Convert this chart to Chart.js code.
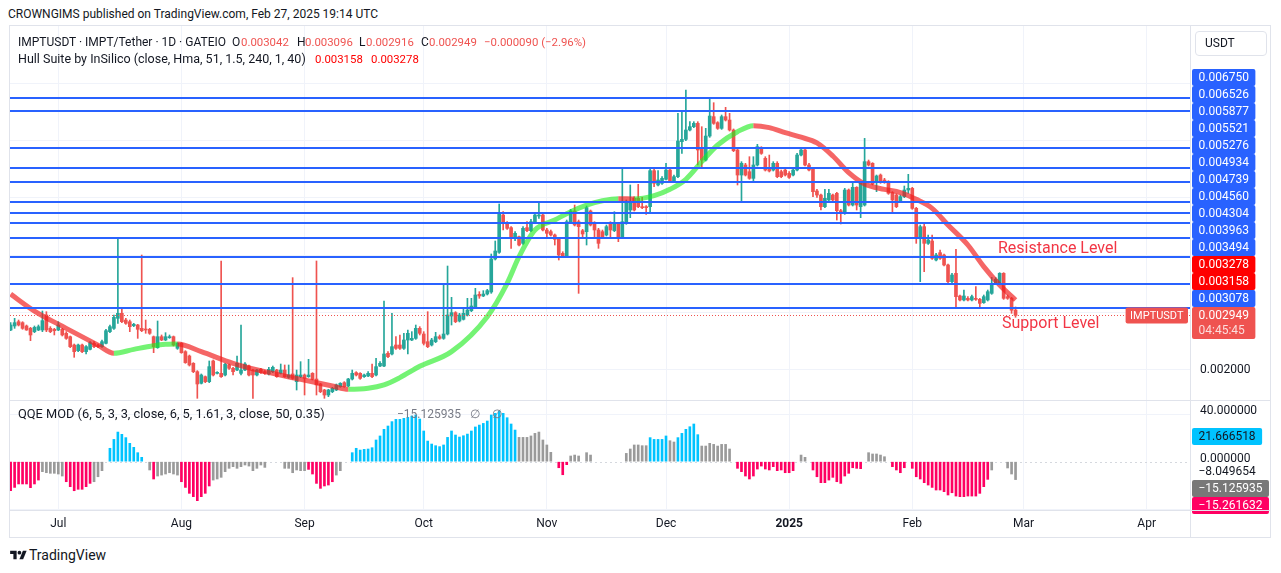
<!DOCTYPE html>
<html>
<head>
<meta charset="utf-8">
<title>IMPTUSDT · IMPT/Tether · 1D</title>
<script src="https://cdn.jsdelivr.net/npm/chart.js@4.4.1/dist/chart.umd.min.js"></script>
<style>
html,body{margin:0;padding:0;background:#fff;}
body{position:relative;width:1281px;height:573px;overflow:hidden;font-family:Roboto,"Noto Sans",Arial,sans-serif;color:#131722;font-size:12px;}
.abs{position:absolute;white-space:nowrap;}
canvas{position:absolute;display:block;}
#frame{left:9px;top:25px;width:1260px;height:511px;border:1px solid #e0e3eb;}
.hline{position:absolute;height:1px;background:#e0e3eb;}
.vline{position:absolute;width:1px;background:#e0e3eb;}
.leg{line-height:16px;font-size:12px;}
.val{font-size:11.4px;}
.dn{color:#ef5350;}
.hu{color:#ff0000;}
.note{font-size:16px;line-height:18px;color:#f23645;}
#usdt{left:1195px;top:31px;width:70px;height:23px;border:1px solid #e0e3eb;border-radius:4px;line-height:23px;text-indent:9px;font-size:12px;}
</style>
</head>
<body>
<div class="abs" id="title" style="left:8px;top:6px;line-height:16px;">CROWNGIMS published on TradingView.com, Feb 27, 2025 19:14 UTC</div>
<div class="abs" id="frame"></div>
<canvas id="main" width="1260" height="374" style="left:10px;top:26px;"></canvas>
<canvas id="qqe" width="1260" height="136" style="left:10px;top:401px;"></canvas>
<div class="hline" style="left:10px;top:400px;width:1260px;"></div>
<div class="hline" style="left:10px;top:510px;width:1260px;"></div>
<div class="vline" style="left:1190px;top:26px;height:511px;"></div>

<div class="abs leg" style="left:18px;top:34px;">IMPTUSDT · IMPT/Tether · 1D · GATEIO</div>
<div class="abs leg" style="left:232px;top:34px;">O</div><div class="abs leg val dn" style="left:241px;top:34px;">0.003042</div>
<div class="abs leg" style="left:297px;top:34px;">H</div><div class="abs leg val dn" style="left:305px;top:34px;">0.003096</div>
<div class="abs leg" style="left:359px;top:34px;">L</div><div class="abs leg val dn" style="left:366px;top:34px;">0.002916</div>
<div class="abs leg" style="left:421px;top:34px;">C</div><div class="abs leg val dn" style="left:429px;top:34px;">0.002949</div>
<div class="abs leg val dn" style="left:484px;top:34px;">−0.000090 (−2.96%)</div>
<div class="abs leg" style="left:18px;top:51px;font-size:12.5px;">Hull Suite by InSilico (close, Hma, 51, 1.5, 240, 1, 40)</div>
<div class="abs leg val hu" style="left:315px;top:51px;">0.003158</div>
<div class="abs leg val hu" style="left:371px;top:51px;">0.003278</div>
<div class="abs leg" style="left:18px;top:406px;font-size:12.8px;">QQE MOD (6, 5, 3, 3, close, 6, 5, 1.61, 3, close, 50, 0.35)</div>
<div class="abs leg" style="left:397px;top:406px;color:#787b86;">−15.125935<span style="margin-left:9px">∅</span><span style="margin-left:12px">∅</span></div>
<div class="abs" id="usdt">USDT</div>
<div class="abs note" style="left:998px;top:239px;">Resistance Level</div>
<div class="abs note" style="left:1002px;top:314px;">Support Level</div>

<div class="abs" style="left:10px;top:549px;"><svg width="17" height="13" viewBox="0 0 36 28"><path d="M14 22H7V11H0V4h14v18z" fill="#131722"/><circle cx="20" cy="8" r="4" fill="#131722"/><path d="M28 22h-8l7.5-18h8L28 22z" fill="#131722"/></svg></div>
<div class="abs" style="left:29px;top:546px;font-size:14px;line-height:18px;">TradingView</div>

<script>
// ---------------- data ----------------
// day index 0 = Jul 1, 2024; first candle = Jun 19, 2024 (index -12), last = Feb 27, 2025 (index 241)
const FIRST_DAY = -12;
const monthTickDays = [0, 31, 62, 92, 123, 153, 184, 215, 243, 274];
const monthTickLabels = ['Jul', 'Aug', 'Sep', 'Oct', 'Nov', 'Dec', '2025', 'Feb', 'Mar', 'Apr'];
const priceGridTicks = [0.002, 0.003, 0.004, 0.005, 0.006, 0.007];
const qqeGridTicks = [40, 0, -40];

// OHLC in micro-USDT (x 0.000001)
const openMicro = [
2694,2764,2839,2822,2764,2723,2665,2694,2694,2956,
2723,2706,2694,2706,2636,2577,2432,2333,2432,2316,
2356,2461,2432,2403,2461,2665,2723,2898,2985,2868,
2839,2770,2781,2723,2706,2706,2577,2385,2577,2519,
2560,2577,2374,2461,2316,2240,2112,1966,1763,1879,
1792,2153,1937,1937,1908,2083,2025,1995,1937,1995,
2065,1995,1908,2007,1966,1926,1966,1995,1937,1995,
1867,1926,1792,1879,1908,1879,1937,1838,1751,1646,
1559,1617,1646,1704,1774,1716,1838,1949,1937,1879,
1891,1937,1908,2065,2065,2287,2275,2432,2432,2374,
2519,2519,2548,2723,2624,2490,2432,2490,2577,2548,
2624,2938,2997,2851,2880,2956,3031,3101,3317,3288,
3322,3357,3934,4050,4702,4568,4481,4323,4323,4207,
4481,4428,4585,4684,4702,4440,4411,4353,4294,4032,
3974,4585,4772,4585,4428,4411,4772,4568,4440,4411,
4353,4556,4428,4556,4323,4556,4789,4993,4993,4847,
4847,4847,5476,5226,5255,5325,5487,5284,5371,5982,
6023,6186,6244,6302,5866,5662,6081,6419,6314,6215,
6419,6360,6186,5837,5400,5575,5458,5342,5575,5866,
5691,5517,5487,5604,5458,5487,5429,5400,5487,5749,
5837,5575,5499,5121,5051,4847,4964,5051,5080,4777,
4731,5138,4876,5185,4847,4876,5633,5604,5266,5400,
5313,5284,5092,5051,4935,5022,5138,5167,4818,4323,
4498,4207,4248,3916,4044,4003,3829,3538,3683,3288,
3218,3247,3218,3247,3229,3171,3218,3334,3509,3509,
3683,3276,3247,3042];
const highMicro = [
2822,2898,2868,2839,2781,2740,2764,2781,3026,3014,
2752,2723,2839,2723,2665,2589,2449,2449,2449,2420,
2490,2490,2449,2519,2706,2781,2956,4306,3055,2898,
2868,2810,2793,4003,2868,2723,2589,2851,2607,2647,
2607,2589,2473,2473,2333,2257,2124,1984,1926,1891,
2153,2170,1966,3899,2112,2100,2042,2240,2781,2124,
2083,2007,2007,2025,1984,2042,2065,2007,2100,2083,
2083,3608,1995,2141,1926,2182,1949,3899,1763,1658,
1658,1693,1751,1774,1792,1850,1995,1966,1949,1926,
1966,2100,2199,2141,3200,2316,2985,2577,2607,2636,
2694,2665,2781,2752,2665,3014,2548,2653,2607,3491,
3811,3264,3014,2985,3055,3247,3247,3421,3363,3381,
3404,4021,4248,4894,4760,4585,4498,4411,4335,4498,
4585,4626,4731,4917,4731,4469,4440,4370,4312,4061,
4614,4801,4876,4614,4452,4859,4789,4585,4469,4440,
4527,4585,4760,4568,5517,4964,5226,5022,5237,5010,
4865,5499,5499,5476,5371,5604,5517,5400,6477,6523,
6884,6331,6331,6331,6244,6215,6739,6663,6331,6448,
6582,6477,6204,5866,5633,5604,5720,5720,5936,5895,
5720,5749,5633,5633,5487,5517,5458,5517,5778,5866,
5866,5604,5517,5150,5069,5150,5150,5069,5098,4801,
5167,5156,5266,5196,5284,6040,5662,5616,5400,5418,
5342,5301,5109,5069,5051,5208,5412,5185,4836,4527,
4556,4353,4353,4032,4091,4021,3846,3683,4102,3305,
3392,3276,3305,3450,3247,3305,3392,3613,3608,3695,
3695,3305,3264,3096];
const lowMicro = [
2682,2723,2764,2706,2688,2508,2647,2682,2665,2665,
2647,2607,2682,2589,2531,2385,2217,2316,2298,2275,
2344,2385,2385,2391,2449,2647,2706,2810,2822,2793,
2665,2752,2548,2665,2636,2618,2298,2374,2508,2508,
2548,2415,2356,2287,2112,2065,1949,1501,1751,1774,
1774,1891,1926,1867,1891,2007,1908,1984,1908,1984,
1891,1501,1891,1937,1920,1908,1949,1867,1926,1867,
1850,1833,1646,1862,1559,1867,1821,1559,1600,1501,
1530,1600,1635,1693,1693,1704,1821,1891,1833,1867,
1879,1862,1891,2054,2054,2211,2257,2356,2356,2356,
2275,2508,2531,2607,2432,2385,2415,2473,2531,2531,
2607,2781,2822,2834,2868,2938,3014,3084,3247,3276,
3305,3334,3916,4032,4440,4452,4120,4254,4160,4189,
4411,4411,4568,4644,4423,4323,4335,4178,3916,3957,
3963,4568,4510,3334,4323,4178,4510,4323,4120,4306,
4335,4323,4411,4236,4306,4539,4655,4772,4830,4812,
4713,4760,5196,5208,5237,5313,5266,5266,5353,5778,
6000,6168,6227,5575,5517,5645,6058,6285,6197,6197,
6343,6168,5808,5226,4935,5383,5325,5284,5557,5761,
5470,5453,5470,5353,5353,5383,5342,5383,5470,5732,
5557,5470,5022,5010,4789,4830,4946,4946,4614,4545,
4713,4859,4859,4789,4655,4859,5557,5226,5109,5255,
5255,5063,4731,4830,4917,5004,5080,4801,4207,3538,
3712,4189,3928,3899,3928,3811,3520,3520,3101,3200,
3200,3200,3200,3212,3072,3159,3200,3317,3491,3497,
3229,3229,2985,2916];
const closeMicro = [
2781,2822,2781,2723,2694,2607,2740,2752,2857,2694,
2665,2682,2781,2607,2548,2403,2316,2432,2316,2403,
2473,2403,2403,2490,2682,2752,2915,2985,2839,2810,
2752,2793,2706,2682,2694,2636,2403,2577,2519,2577,
2577,2432,2461,2298,2124,2083,1966,1751,1908,1792,
2054,1908,1949,1879,2094,2025,1966,2112,1995,2100,
1908,1908,1995,1949,1937,2007,2042,1879,1995,1879,
1908,1850,1908,1908,1850,1908,1833,1734,1617,1559,
1646,1675,1734,1763,1704,1838,1937,1908,1850,1908,
1937,1879,2054,2112,2275,2228,2403,2374,2374,2519,
2636,2548,2723,2636,2461,2403,2519,2577,2548,2624,
2956,2997,2839,2956,2985,3043,3113,3305,3288,3322,
3381,3934,4073,4743,4556,4469,4294,4382,4178,4469,
4428,4585,4702,4702,4440,4382,4353,4277,4003,3974,
4585,4772,4527,4498,4370,4830,4527,4440,4207,4323,
4498,4440,4568,4323,4585,4935,4917,4789,4847,4830,
4830,5476,5255,5313,5342,5487,5284,5371,5994,6023,
6186,6244,6302,5837,5662,6081,6430,6302,6215,6419,
6360,6186,5825,5400,5604,5400,5342,5575,5895,5778,
5487,5470,5604,5371,5371,5400,5359,5487,5749,5837,
5575,5487,5109,5051,4847,4993,5080,4964,4777,4731,
5138,4876,5185,4876,5255,5633,5575,5243,5383,5266,
5266,5080,4964,4847,5022,5138,5167,4818,4294,4498,
4207,4265,3945,4003,3945,3829,3538,3654,3276,3218,
3288,3218,3276,3229,3159,3276,3363,3509,3579,3683,
3247,3247,3039,2949];

// Hull Suite centre line (read at these days), micro-USDT
const hullDays = [-12,-6,2,10,14,19,24,27,30,36,44,52,61,69,73,78,82,86,91,99,
  108,113,116,120,125,129,133,137,141,145,150,154,158,162,166,171,175,179,183,187,
  191,195,199,203,208,212,216,220,224,229,233,237,241];
const hullMicro = [3320,3025,2723,2430,2287,2356,2420,2444,2449,2316,2112,1966,1833,1716,1658,1675,1734,1862,2060,2316,
  2927,3509,3974,4440,4614,4760,4876,4952,4987,4982,5039,5150,5325,5633,5924,6157,6262,6227,6139,6060,
  5960,5732,5441,5243,5150,5092,4975,4818,4527,4178,3800,3480,3218];
const hullLastValues = [0.003158, 0.003278];

// horizontal levels
const levelPrices = [0.006750, 0.006526, 0.005877, 0.005521, 0.005276, 0.004934, 0.004739, 0.004560, 0.004304, 0.003963, 0.003494, 0.003078];
const countdownText = '04:45:45';
const symbolName = 'IMPTUSDT';

// QQE MOD histogram (same days as candles); state: P pink, G grey, B blue, . none
const qqeValues = [
-24.5,-21.7,-18.8,-18.8,-18.8,-21.9,-18.8,-15.5,-8.4,-9.3,
-9.8,-9.8,-10.4,-12.1,-16.9,-21.1,-24.5,-23.3,-23.3,-21.1,
-18.3,-16.9,-12.7,-7.6,null,11.3,18.8,25.0,23.1,20.3,
15.5,12.1,7.6,3.7,null,-7.0,-14.6,-12.1,-11.3,-10.4,
-9.3,-10.4,-11.3,-16.9,-21.7,-26.7,-29.5,-32.9,-29.5,-26.7,
-20.5,-15.5,-14.6,-13.2,-8.4,-5.6,-4.2,-5.6,-4.2,-2.8,
-3.7,-7.6,-5.6,-2.8,-4.8,null,null,null,null,-5.6,
-5.6,-9.3,-7.0,-7.6,-7.6,-6.5,-10.4,-18.3,-22.5,-20.5,
-19.7,-16.9,-11.3,-7.6,null,null,7.6,11.3,9.8,10.4,
10.7,11.8,18.3,21.7,27.3,30.1,33.8,35.7,35.7,36.6,
37.4,38.5,39.4,36.0,25.9,17.4,14.9,13.5,12.7,14.1,
20.5,25.9,22.5,20.8,21.9,23.3,25.9,29.3,30.9,32.3,
34.3,39.4,40.8,42.8,40.8,37.1,31.8,26.7,20.5,20.5,
20.5,21.7,23.9,25.0,18.3,14.1,7.9,null,-5.1,-11.0,
-2.5,4.8,5.6,4.8,null,7.6,5.6,null,null,null,
null,null,null,null,null,7.0,10.7,14.1,14.1,13.5,
13.5,20.3,18.8,18.8,18.8,21.7,17.7,16.6,20.3,23.9,
27.3,29.5,31.8,22.8,13.2,13.2,15.5,14.6,13.2,14.6,
14.6,10.7,null,-5.6,-8.4,-12.1,-14.6,-12.1,-6.2,-3.7,
-6.2,-7.0,-4.2,-7.6,-7.0,-9.3,-9.3,-7.6,null,5.6,
3.7,null,-7.0,-12.7,-17.7,-17.7,-15.5,-13.2,-16.9,-18.3,
-12.1,-9.8,-5.1,-5.6,-5.9,null,7.6,6.5,6.5,5.6,
4.2,null,-4.2,-7.0,-9.3,-5.1,null,-5.6,-12.7,-14.6,
-17.7,-19.7,-21.7,-23.9,-23.9,-25.3,-28.1,-26.2,-29.0,-29.5,
-29.5,-29.0,-29.0,-29.0,-26.7,-21.1,-14.9,-7.0,null,null,
null,-5.3,-10.4,-15.1];
const qqeStates =
"PPPPPPPPGG" + "GGGGPPPPPP" + "PGGG.BBBBB" + "BBBB.GPGGG" + "GGGPPPPPPP" +
"PGGGGGGGGG" + "GGGGG....G" + "GGGGGPPPPP" + "PPGG..BBBB" + "BBBBBBBBBB" +
"BBBBBBBBBB" + "BBBBBBBBBB" + "BBBBBBBBGG" + "GGGGGGG.PP" + "PGGG.GG..." +
".....GGGGG" + "GBBBBBGGBB" + "BBBBGGGGGG" + "GG.PPPPPPP" + "PPPPPPPP.G" +
"G.PPPPPPPP" + "PPPPP.GGGG" + "G.PPPP.PPP" + "PPPPPPPPPP" + "PPPPPPPG.." +
".GGG";
const qqeAxisValues = [21.666518, -8.049654, -15.125935, -15.261632];

// ---------------- styling ----------------
const U = 1e-6;
const UP = '#26a69a', DOWN = '#ef5350';
const HULL_UP = 'rgba(30,236,30,0.62)', HULL_DOWN = 'rgba(240,30,30,0.68)';
const LEVEL_COLOR = '#2962ff';
const GRID = '#f0f3fa';
const FONT = 'Roboto, "Noto Sans", Arial, sans-serif';
const QQE_COLORS = {P: '#ff0062', G: '#9a9a9a', B: '#00c3ff'};
const QQE_LABEL_STYLE = [
  {bg: '#00c3ff', fg: '#131722'},
  {bg: '#ffffff', fg: '#131722'},
  {bg: '#787878', fg: '#ffffff'},
  {bg: '#ff0062', fg: '#ffffff'}
];
const X_MIN = -12.16, X_MAX = 284.92;
const MAIN_MIN = 0.0014716, MAIN_MAX = 0.008002;
const QQE_MIN = -40.76, QQE_MAX = 51.2;

const candleDays = openMicro.map((_, i) => FIRST_DAY + i);
const candleColors = candleDays.map((_, i) => closeMicro[i] >= openMicro[i] ? UP : DOWN);
const lastClose = closeMicro[closeMicro.length - 1] * U;

function fmt(v) { return (v < 0 ? '\u2212' : '') + Math.abs(v).toFixed(6); }

function drawBox(ctx, x, cy, w, h, bg, radius) {
  ctx.fillStyle = bg;
  ctx.beginPath();
  if (ctx.roundRect) ctx.roundRect(x, cy, w, h, radius); else ctx.rect(x, cy, w, h);
  ctx.fill();
}

const xAxisCommon = {
  type: 'linear', min: X_MIN, max: X_MAX, offset: false,
  grid: {color: GRID, offset: false, drawTicks: false},
  afterBuildTicks: s => { s.ticks = monthTickDays.map(v => ({value: v})); }
};

// ---------------- main pane ----------------
const mainOverlay = {
  id: 'mainOverlay',
  afterDatasetsDraw(chart) {
    const {ctx, chartArea: a, scales: {y}} = chart;
    ctx.save();
    ctx.beginPath(); ctx.rect(a.left, a.top, a.right - a.left, a.bottom - a.top); ctx.clip();
    ctx.strokeStyle = LEVEL_COLOR; ctx.lineWidth = 2;
    levelPrices.forEach(v => {
      const py = Math.round(y.getPixelForValue(v));
      ctx.beginPath(); ctx.moveTo(a.left, py); ctx.lineTo(a.right, py); ctx.stroke();
    });
    const lp = Math.round(y.getPixelForValue(lastClose)) + 0.5;
    ctx.strokeStyle = DOWN; ctx.lineWidth = 1; ctx.setLineDash([1, 2]);
    ctx.beginPath(); ctx.moveTo(a.left, lp); ctx.lineTo(a.right, lp); ctx.stroke();
    ctx.setLineDash([]);
    // symbol tag at right edge of the pane
    ctx.font = '11px ' + FONT;
    const sw = ctx.measureText(symbolName).width + 9;
    drawBox(ctx, a.right - sw - 2, lp - 8, sw, 16, DOWN, 2);
    ctx.fillStyle = '#fff'; ctx.textBaseline = 'middle'; ctx.textAlign = 'left';
    ctx.fillText(symbolName, a.right - sw + 2.5, lp + 0.5);
    ctx.restore();
  },
  afterDraw(chart) {
    const {ctx, chartArea: a, scales: {y}} = chart;
    ctx.save();
    ctx.font = '12px ' + FONT; ctx.textBaseline = 'middle'; ctx.textAlign = 'left';
    const items = [];
    levelPrices.forEach(v => items.push({value: v, bg: LEVEL_COLOR, fg: '#fff'}));
    hullLastValues.forEach(v => items.push({value: v, bg: '#ff0000', fg: '#fff'}));
    items.push({value: lastClose, bg: DOWN, fg: '#fff', sub: countdownText});
    items.sort((p, q) => p.value - q.value);
    let prev = null;
    items.forEach(it => {
      it.cy = y.getPixelForValue(it.value);
      if (prev) it.cy = Math.min(it.cy, prev.cy - 17);
      prev = it;
    });
    priceGridTicks.forEach(v => {
      const py = y.getPixelForValue(v);
      if (items.some(it => Math.abs(it.cy - py) < 8)) return;
      ctx.fillStyle = '#131722';
      ctx.fillText(v.toFixed(6), a.right + 10, py);
    });
    items.forEach(it => {
      const txt = fmt(it.value);
      const w = ctx.measureText(txt).width + 13;
      const h = it.sub ? 32 : 17;
      drawBox(ctx, a.right + 2, Math.round(it.cy - 8.5), w, h, it.bg, 2);
      ctx.fillStyle = it.fg;
      ctx.fillText(txt, a.right + 8.5, it.cy + 0.5);
      if (it.sub) {
        ctx.fillStyle = 'rgba(255,255,255,0.8)';
        ctx.fillText(it.sub, a.right + 8.5, it.cy + 15.5);
      }
    });
    ctx.restore();
  }
};

new Chart(document.getElementById('main'), {
  type: 'bar',
  data: {
    datasets: [
      {
        type: 'line', label: 'Hull', order: 0,
        data: hullDays.map((d, i) => ({x: d, y: hullMicro[i] * U})),
        borderColor: HULL_UP, borderWidth: 5, pointRadius: 0, fill: false,
        cubicInterpolationMode: 'monotone', borderCapStyle: 'butt', borderJoinStyle: 'round',
        segment: {borderColor: c => c.p1.parsed.y >= c.p0.parsed.y ? HULL_UP : HULL_DOWN}
      },
      {
        label: 'body', order: 1, grouped: false,
        data: candleDays.map((d, i) => ({x: d, y: [openMicro[i] * U, closeMicro[i] * U]})),
        backgroundColor: candleColors, barThickness: 3, minBarLength: 1
      },
      {
        label: 'wick', order: 2, grouped: false,
        data: candleDays.map((d, i) => ({x: d, y: [lowMicro[i] * U, highMicro[i] * U]})),
        backgroundColor: candleColors, barThickness: 1
      }
    ]
  },
  options: {
    responsive: false, animation: false, events: [],
    layout: {padding: 0},
    plugins: {legend: {display: false}, tooltip: {enabled: false}},
    scales: {
      x: Object.assign({}, xAxisCommon, {
        border: {display: false}, ticks: {display: false},
        afterFit: s => { s.height = 0; }
      }),
      y: {
        type: 'linear', position: 'right', min: MAIN_MIN, max: MAIN_MAX,
        grid: {color: GRID, drawTicks: false}, border: {display: false},
        ticks: {display: false},
        afterBuildTicks: s => { s.ticks = priceGridTicks.map(v => ({value: v})); },
        afterFit: s => { s.width = 80; }
      }
    }
  },
  plugins: [mainOverlay]
});

// ---------------- QQE pane ----------------
const qqeOverlay = {
  id: 'qqeOverlay',
  beforeDatasetsDraw(chart) {
    const {ctx, chartArea: a, scales: {y}} = chart;
    const py = Math.round(y.getPixelForValue(0)) + 0.5;
    ctx.save();
    ctx.strokeStyle = '#d5d8de'; ctx.lineWidth = 1; ctx.setLineDash([2, 3]);
    ctx.beginPath(); ctx.moveTo(a.left, py); ctx.lineTo(a.right, py); ctx.stroke();
    ctx.restore();
  },
  afterDraw(chart) {
    const {ctx, chartArea: a, scales: {y}} = chart;
    ctx.save();
    ctx.font = '12px ' + FONT; ctx.textBaseline = 'middle'; ctx.textAlign = 'left';
    const items = qqeAxisValues.map((v, i) => ({value: v, bg: QQE_LABEL_STYLE[i].bg, fg: QQE_LABEL_STYLE[i].fg}));
    items.sort((p, q) => q.value - p.value);
    let prev = null;
    items.forEach(it => {
      it.cy = y.getPixelForValue(it.value);
      if (prev) it.cy = Math.max(it.cy, prev.cy + 17);
      prev = it;
    });
    qqeGridTicks.forEach(v => {
      const py = y.getPixelForValue(v);
      if (items.some(it => Math.abs(it.cy - py) < 8)) return;
      ctx.fillStyle = '#131722';
      ctx.fillText(fmt(v), a.right + 10, py - 3);
    });
    items.forEach(it => {
      const txt = fmt(it.value);
      const w = ctx.measureText(txt).width + 13;
      drawBox(ctx, a.right + 2, Math.round(it.cy - 8.5), w, 17, it.bg, 2);
      ctx.fillStyle = it.fg;
      ctx.fillText(txt, a.right + 8.5, it.cy + 0.5);
    });
    ctx.restore();
  }
};

new Chart(document.getElementById('qqe'), {
  type: 'bar',
  data: {
    datasets: [{
      label: 'QQE', grouped: false,
      data: candleDays.map((d, i) => ({x: d, y: qqeValues[i]})),
      backgroundColor: candleDays.map((_, i) => QQE_COLORS[qqeStates[i]] || 'rgba(0,0,0,0)'),
      barThickness: 2
    }]
  },
  options: {
    responsive: false, animation: false, events: [],
    layout: {padding: 0},
    plugins: {legend: {display: false}, tooltip: {enabled: false}},
    scales: {
      x: Object.assign({}, xAxisCommon, {
        border: {display: false},
        ticks: {
          padding: 7, color: '#131722', maxRotation: 0, autoSkip: false,
          font: c => ({family: FONT, size: 12, weight: (c.tick && c.tick.label === '2025') ? 'bold' : 'normal'}),
          callback: v => { const i = monthTickDays.indexOf(v); return i >= 0 ? monthTickLabels[i] : ''; }
        },
        afterFit: s => { s.height = 27; }
      }),
      y: {
        type: 'linear', position: 'right', min: QQE_MIN, max: QQE_MAX,
        grid: {color: c => (c.tick && c.tick.value === 0) ? 'rgba(0,0,0,0)' : GRID, drawTicks: false},
        border: {display: false}, ticks: {display: false},
        afterBuildTicks: s => { s.ticks = qqeGridTicks.map(v => ({value: v})); },
        afterFit: s => { s.width = 80; }
      }
    }
  },
  plugins: [qqeOverlay]
});
</script>
</body>
</html>
